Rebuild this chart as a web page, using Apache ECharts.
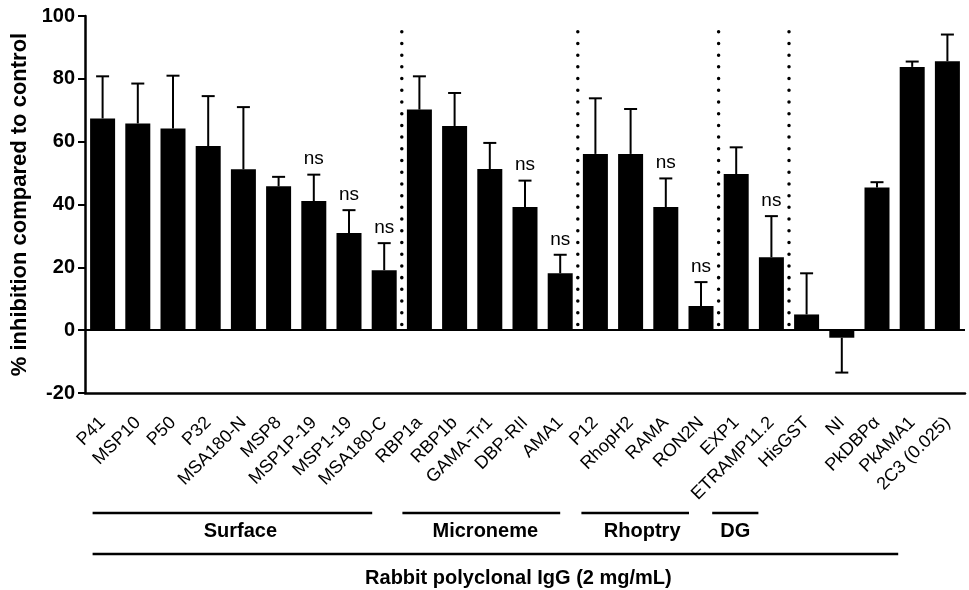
<!DOCTYPE html>
<html>
<head>
<meta charset="utf-8">
<script src="https://cdn.jsdelivr.net/npm/echarts@6/dist/echarts.min.js"></script>
<style>
  html, body { margin: 0; padding: 0; background: #fff; }
  #chart { width: 969px; height: 590px; }
</style>
</head>
<body>
<div id="chart"></div>
<script>
// antigens on the x axis
var categories = ['P41', 'MSP10', 'P50', 'P32', 'MSA180-N', 'MSP8', 'MSP1P-19', 'MSP1-19', 'MSA180-C',
    'RBP1a', 'RBP1b', 'GAMA-Tr1', 'DBP-RII', 'AMA1',
    'P12', 'RhopH2', 'RAMA', 'RON2N',
    'EXP1', 'ETRAMP11.2',
    'HisGST', 'NI', 'PkDBP\u03b1', 'PkAMA1', '2C3 (0.025)'];
// mean % inhibition
var inhibition = [67.4, 65.8, 64.2, 58.6, 51.2, 45.8, 41.1, 30.9, 19.1,
    70.2, 65.0, 51.3, 39.2, 18.1,
    56.1, 56.1, 39.2, 7.7,
    49.7, 23.2,
    5.0, -2.4, 45.4, 83.8, 85.6];
// error bar length
var errors = [13.4, 12.7, 16.8, 15.9, 19.8, 3.0, 8.4, 7.3, 8.6,
    10.6, 10.5, 8.3, 8.4, 5.9,
    17.7, 14.3, 9.1, 7.6,
    8.5, 13.1,
    13.1, 11.1, 1.7, 1.7, 8.5];
// 1 = not significant
var notSignificant = [0, 0, 0, 0, 0, 0, 1, 1, 1,
    0, 0, 0, 1, 1,
    0, 0, 1, 1,
    0, 1,
    0, 0, 0, 0, 0];
// dotted separators after these categories
var separatorAfter = [8, 13, 17, 19];
var separatorTop = 95;
// groups under the axis
var groupNames = ['Surface', 'Microneme', 'Rhoptry', 'DG'];
var groupFirst = [0, 9, 14, 18];
var groupLast = [8, 13, 17, 19];
var outerName = 'Rabbit polyclonal IgG (2 mg/mL)';
var outerFirst = 0, outerLast = 23;

var FONT = '"Liberation Sans", Arial, sans-serif';
// pixel tweaks for the brackets (left pad, right pad, text shift)
var groupPad = [[-10, -12, 8], [-17, 0, 4], [-14, -12, 7], [-24, -13, 0]];
var outerPad = [-10, -14, 23];

var chart = echarts.init(document.getElementById('chart'));

var errData = categories.map(function (c, i) {
    return [i, inhibition[i], errors[i], notSignificant[i]];
});
var sepData = separatorAfter.map(function (i) { return [i, separatorTop]; });
var groupData = groupNames.map(function (n, k) {
    return { name: n, value: [groupFirst[k], groupLast[k], 0, k] };
});
groupData.push({ name: outerName, value: [outerFirst, outerLast, 1, -1] });

var option = {
    animation: false,
    backgroundColor: '#fff',
    grid: { left: 85, right: 4, top: 16, bottom: 197 },
    xAxis: {
        type: 'category',
        data: categories,
        axisLine: { onZero: false, lineStyle: { color: '#000', width: 2.5 } },
        axisTick: { alignWithLabel: true, length: 7, lineStyle: { color: '#000', width: 2 } },
        axisLabel: {
            interval: 0, rotate: 45, margin: 27,
            color: '#000', fontSize: 18, fontFamily: FONT
        }
    },
    yAxis: {
        type: 'value',
        min: -20, max: 100, interval: 20,
        name: '% inhibition compared to control',
        nameLocation: 'middle',
        nameGap: 52,
        nameTextStyle: { color: '#000', fontSize: 22, fontWeight: 'bold', fontFamily: FONT },
        axisLine: { show: true, lineStyle: { color: '#000', width: 2.5 } },
        axisTick: { show: true, length: 7, lineStyle: { color: '#000', width: 2 } },
        axisLabel: { margin: 10, color: '#000', fontSize: 20, fontWeight: 'bold', fontFamily: FONT },
        splitLine: { show: false }
    },
    series: [{
        type: 'bar',
        data: inhibition,
        barWidth: 25,
        itemStyle: { color: '#000' },
        markLine: {
            silent: true,
            symbol: 'none',
            label: { show: false },
            lineStyle: { color: '#000', width: 2, type: 'solid' },
            data: [{ yAxis: 0 }]
        }
    }, {
        type: 'custom',
        data: errData,
        encode: { x: 0, y: 1 },
        z: 3,
        renderItem: function (params, api) {
            var i = api.value(0), v = api.value(1), e = api.value(2);
            var end = v >= 0 ? v + e : v - e;
            var p0 = api.coord([i, v]), p1 = api.coord([i, end]);
            var ls = { stroke: '#000', lineWidth: 2 };
            var kids = [
                { type: 'line', shape: { x1: p0[0], y1: p0[1], x2: p1[0], y2: p1[1] }, style: ls },
                { type: 'line', shape: { x1: p1[0] - 6.5, y1: p1[1], x2: p1[0] + 6.5, y2: p1[1] }, style: ls }
            ];
            if (api.value(3)) {
                kids.push({
                    type: 'text', x: p1[0], y: p1[1] - 6,
                    style: { text: 'ns', fill: '#000', font: '19px ' + FONT, align: 'center', verticalAlign: 'bottom' }
                });
            }
            return { type: 'group', children: kids };
        }
    }, {
        type: 'custom',
        data: sepData,
        encode: { x: 0, y: 1 },
        z: 3,
        renderItem: function (params, api) {
            var i = api.value(0);
            var half = api.size([1, 0])[0] / 2;
            var top = api.coord([i, api.value(1)]);
            var base = api.coord([i, 0]);
            return {
                type: 'line',
                shape: { x1: top[0] + half, y1: top[1], x2: top[0] + half, y2: base[1] },
                style: { stroke: '#000', lineWidth: 3.5, lineDash: [0.01, 11.7], lineCap: 'round' }
            };
        }
    }, {
        type: 'custom',
        data: groupData,
        encode: { x: 0 },
        clip: false,
        silent: true,
        renderItem: function (params, api) {
            var a = api.value(0), b = api.value(1), level = api.value(2), k = api.value(3);
            var pad = level ? outerPad : groupPad[k];
            var x1 = api.coord([a, 0])[0] + pad[0];
            var x2 = api.coord([b, 0])[0] + pad[1];
            var ly = level ? 554 : 513;
            var ty = level ? 578 : 531;
            var name = level ? outerName : groupNames[k];
            return {
                type: 'group',
                children: [
                    { type: 'line', shape: { x1: x1, y1: ly, x2: x2, y2: ly }, style: { stroke: '#000', lineWidth: 2.5 } },
                    {
                        type: 'text', x: (x1 + x2) / 2 + pad[2], y: ty,
                        style: { text: name, fill: '#000', font: 'bold 20px ' + FONT, align: 'center', verticalAlign: 'middle' }
                    }
                ]
            };
        }
    }]
};

chart.setOption(option);
</script>
</body>
</html>
